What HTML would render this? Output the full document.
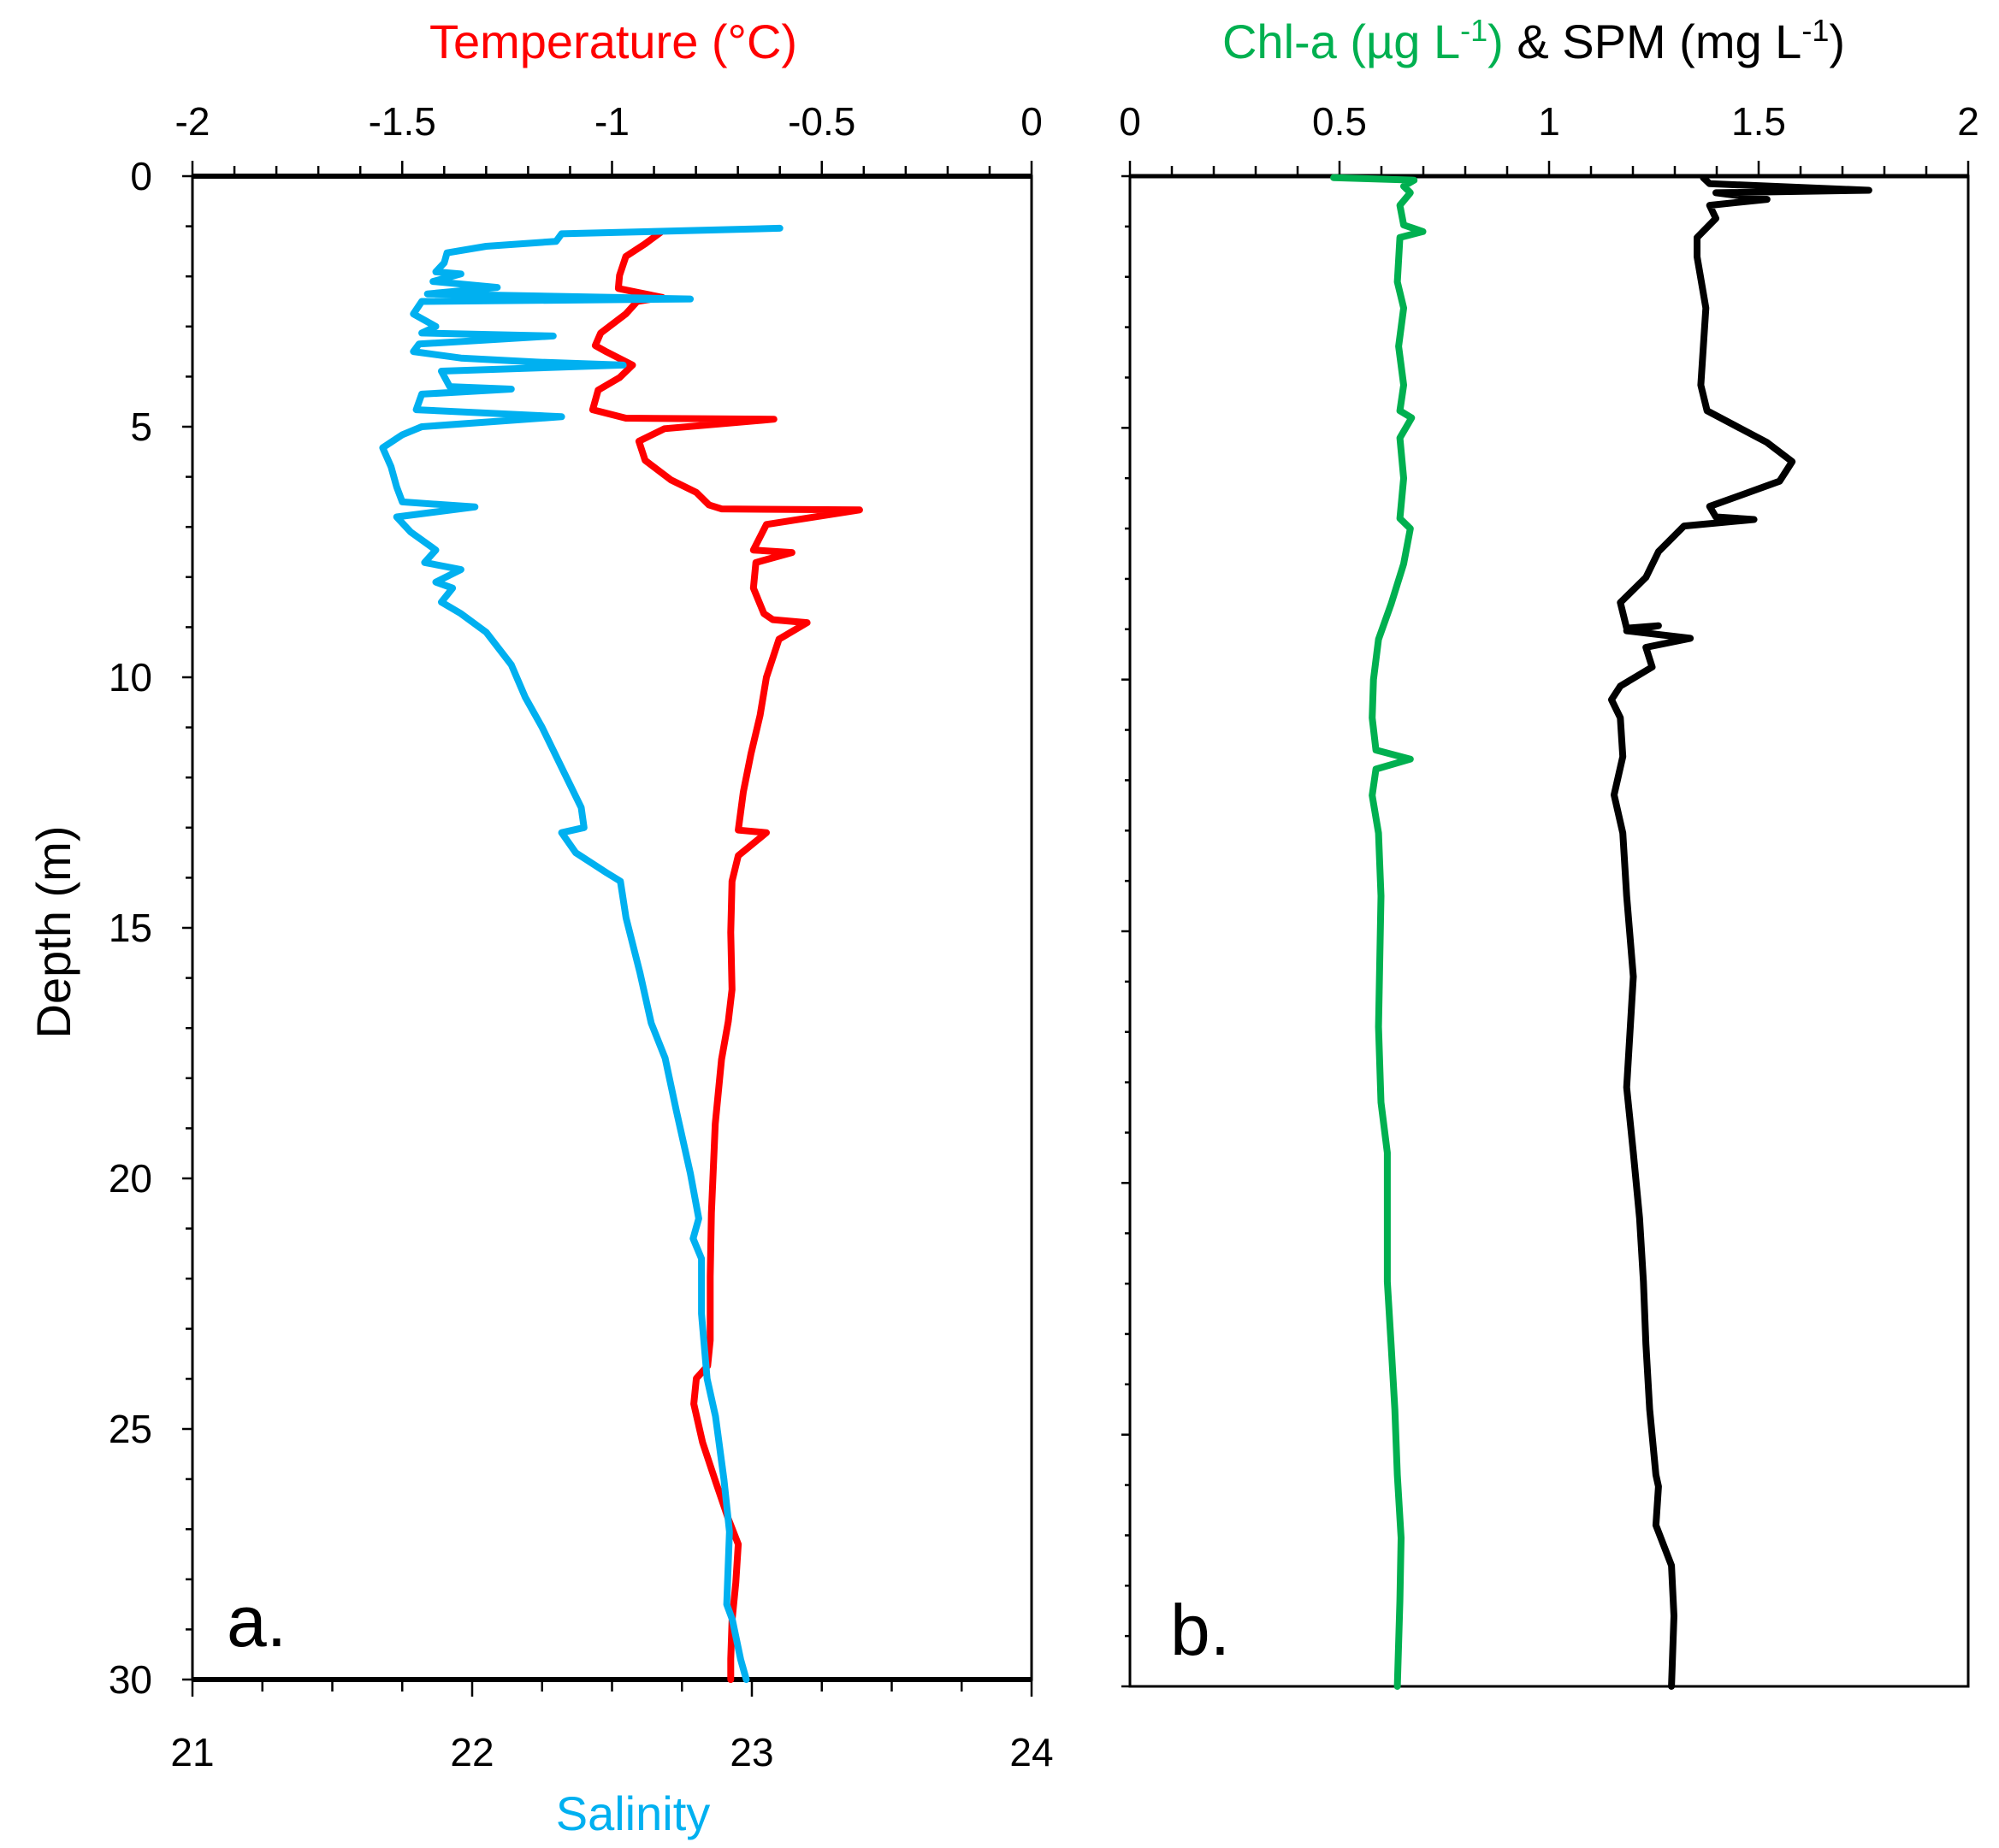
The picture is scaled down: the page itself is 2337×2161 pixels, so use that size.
<!DOCTYPE html>
<html><head><meta charset="utf-8"><style>
html,body{margin:0;padding:0;background:#fff;}
svg{display:block;}
text{font-family:"Liberation Sans Narrow","Liberation Sans",sans-serif;}
</style></head><body>
<svg id="chart" width="2337" height="2161" viewBox="0 0 2337 2161" xmlns="http://www.w3.org/2000/svg">
<g id="axes"></g><g id="series"></g>
<text x="717" y="68" font-size="56" fill="#ff0000" text-anchor="middle">Temperature (°C)</text>
<text x="740" y="2140" font-size="56" fill="#00b0f0" text-anchor="middle">Salinity</text>
<text transform="translate(82,1090) rotate(-90)" font-size="56" fill="#000" text-anchor="middle">Depth (m)</text>
<text x="1793" y="68" font-size="56" text-anchor="middle"><tspan fill="#00b050">Chl-a (µg L<tspan baseline-shift="super" font-size="36">-1</tspan>)</tspan><tspan fill="#000"> &amp; SPM (mg L<tspan baseline-shift="super" font-size="36">-1</tspan>)</tspan></text>
<text x="265" y="1925" font-size="84">a.</text>
<text x="1368" y="1935" font-size="84">b.</text>
</svg>
<script>
const tempDepth=[1.12,1.35,1.6,1.98,2.24,2.3,2.42,2.5,2.75,3.13,3.38,3.51,3.77,4.02,4.27,4.66,4.83,4.85,5.04,5.29,5.67,6.06,6.31,6.56,6.64,6.66,6.95,7.46,7.51,7.71,8.22,8.73,8.85,8.91,9.24,10,10.76,11.53,12.29,13.05,13.1,13.56,14.07,15.09,16.23,16.87,17.63,18.91,20.69,21.96,23.23,23.74,23.99,24.5,25.27,26.03,26.79,27.3,28.07,28.83,29.59,30];
const tempValues=[-0.884,-0.921,-0.967,-0.982,-0.985,-0.95,-0.88,-0.94,-0.967,-1.027,-1.04,-1.012,-0.951,-0.982,-1.033,-1.046,-0.967,-0.614,-0.875,-0.936,-0.921,-0.86,-0.799,-0.769,-0.739,-0.41,-0.632,-0.663,-0.571,-0.657,-0.663,-0.638,-0.617,-0.535,-0.602,-0.632,-0.647,-0.669,-0.687,-0.699,-0.632,-0.699,-0.714,-0.717,-0.714,-0.723,-0.739,-0.754,-0.763,-0.766,-0.766,-0.772,-0.799,-0.805,-0.784,-0.754,-0.723,-0.699,-0.705,-0.714,-0.717,-0.717];
const salDepth=[1.04,1.15,1.3,1.4,1.53,1.73,1.91,1.95,2.1,2.22,2.35,2.42,2.45,2.5,2.75,3.0,3.13,3.19,3.35,3.5,3.63,3.71,3.77,3.89,4.2,4.25,4.35,4.66,4.8,5.0,5.16,5.42,5.8,6.2,6.5,6.6,6.8,7.1,7.46,7.71,7.85,8.1,8.22,8.5,8.73,9.1,9.75,10.4,11.0,11.8,12.6,13.0,13.1,13.5,13.9,14.07,14.8,15.9,16.9,17.6,18.65,19.9,20.8,21.2,21.6,22.7,24.0,24.75,26.0,27.05,28.5,28.8,29.6,30];
const salValues=[23.1,22.32,22.3,22.05,21.91,21.9,21.87,21.96,21.86,22.09,21.84,22.5,22.78,21.82,21.79,21.87,21.82,22.29,21.81,21.79,21.96,22.23,22.54,21.89,21.92,22.14,21.82,21.8,22.32,21.82,21.75,21.68,21.71,21.73,21.75,22.01,21.73,21.78,21.87,21.83,21.96,21.87,21.93,21.89,21.96,22.05,22.14,22.19,22.25,22.32,22.39,22.4,22.32,22.37,22.48,22.53,22.55,22.6,22.64,22.69,22.73,22.78,22.81,22.79,22.82,22.82,22.84,22.87,22.9,22.92,22.91,22.93,22.96,22.98];
const chlDepth=[0.03,0.08,0.2,0.33,0.58,0.97,1.1,1.22,2.1,2.62,3.38,4.15,4.66,4.8,5.2,6,6.8,7.0,7.7,8.5,9.2,10,10.76,11.4,11.58,11.78,12.3,13.05,14.3,16.9,18.4,19.4,21.96,23.2,24.5,25.8,27.05,28.3,30];
const chlValues=[0.486,0.678,0.653,0.669,0.644,0.653,0.699,0.644,0.638,0.653,0.641,0.653,0.644,0.672,0.644,0.653,0.644,0.669,0.653,0.623,0.593,0.581,0.578,0.587,0.669,0.587,0.578,0.593,0.599,0.593,0.599,0.614,0.614,0.623,0.632,0.638,0.647,0.644,0.638];
const spmDepth=[0.03,0.15,0.28,0.33,0.46,0.58,0.84,1.22,1.6,2.62,4.15,4.66,5.29,5.67,6.06,6.56,6.77,6.82,6.95,7.46,7.97,8.47,8.98,8.93,9.03,9.18,9.36,9.75,10.13,10.4,10.76,11.53,12.29,13.05,14.3,15.9,18.1,19.4,20.7,21.96,23.2,24.5,25.8,26.03,26.8,27.6,28.6,30];
const spmValues=[1.368,1.383,1.763,1.398,1.52,1.383,1.398,1.353,1.353,1.374,1.362,1.377,1.52,1.58,1.55,1.383,1.398,1.489,1.322,1.261,1.231,1.17,1.185,1.261,1.185,1.337,1.231,1.246,1.17,1.149,1.17,1.176,1.155,1.176,1.185,1.201,1.185,1.201,1.216,1.225,1.231,1.24,1.255,1.261,1.255,1.292,1.298,1.292];
const tempTicks=["-2","-1.5","-1","-0.5","0"];
const salTicks=["21","22","23","24"];
const depthTicks=["0","5","10","15","20","25","30"];
const bTicks=["0","0.5","1","1.5","2"];

const NS="http://www.w3.org/2000/svg";
const A={l:225,r:1206,t:206,b:1964}, B={l:1321,r:2301,t:206,b:1972};
const lin=(d0,d1,r0,r1)=>v=>r0+(v-d0)/(d1-d0)*(r1-r0);
const xT=lin(-2,0,A.l,A.r), xS=lin(21,24,A.l,A.r), yA=lin(0,30,A.t,A.b);
const xB=lin(0,2,B.l,B.r), yB=lin(0,30,B.t,B.b);
const axes=document.getElementById('axes'), ser=document.getElementById('series');
function mk(tag,at,parent){const e=document.createElementNS(NS,tag);for(const k in at)e.setAttribute(k,at[k]);parent.appendChild(e);return e;}
function line(x1,y1,x2,y2,w){return mk('line',{x1,y1,x2,y2,stroke:'#000','stroke-width':w},axes);}
function label(x,y,t,anchor){const e=mk('text',{x,y,'font-size':46,'text-anchor':anchor,fill:'#000'},axes);e.textContent=t;return e;}

[A,B].forEach((P,i)=>{const r=mk('rect',{x:P.l,y:P.t,width:P.r-P.l,height:P.b-P.t,fill:'none',stroke:'#000','stroke-width':3},axes);

});
line(A.l,A.t,A.r,A.t,6);line(A.l,A.b,A.r,A.b,6);line(B.l,B.t,B.r,B.t,5);
for(let i=0;i<=20;i++){const v=-2+i*0.1,x=xT(v),maj=i%5==0;line(x,A.t,x,A.t-(maj?18:12),2.5);}
tempTicks.forEach(t=>{const e=label(xT(+t),158,t,'middle');});
for(let i=0;i<=12;i++){const v=21+i*0.25,x=xS(v),maj=i%4==0;line(x,A.b,x,A.b+(maj?20:14),2.5);}
salTicks.forEach(t=>{const e=label(xS(+t),2065,t,'middle');});
for(let d=0;d<=30;d++){line(A.l,yA(d),A.l-(d%5==0?12:8),yA(d),2.5);line(B.l,yB(d),B.l-(d%5==0?10:6),yB(d),2.5);}
depthTicks.forEach(t=>{const e=label(178,yA(+t)+16,t,'end');});
for(let i=0;i<=20;i++){const v=i*0.1,x=xB(v),maj=i%5==0;line(x,B.t,x,B.t-(maj?18:12),2.5);}
bTicks.forEach(t=>{const e=label(xB(+t),158,t,'middle');});

function path(xs,ys,fx,fy,color,name){const d=xs.map((v,i)=>(i?'L':'M')+fx(v).toFixed(1)+','+fy(ys[i]).toFixed(1)).join('');
const p=mk('path',{d,fill:'none',stroke:color,'stroke-width':8,'stroke-linejoin':'round','stroke-linecap':'round'},ser);

}
path(tempValues,tempDepth,xT,yA,'#ff0000','temperature-line');
path(salValues,salDepth,xS,yA,'#00b0f0','salinity-line');
path(chlValues,chlDepth,xB,yB,'#00b050','chl-a-line');
path(spmValues,spmDepth,xB,yB,'#000000','spm-line');
</script>
</body></html>
